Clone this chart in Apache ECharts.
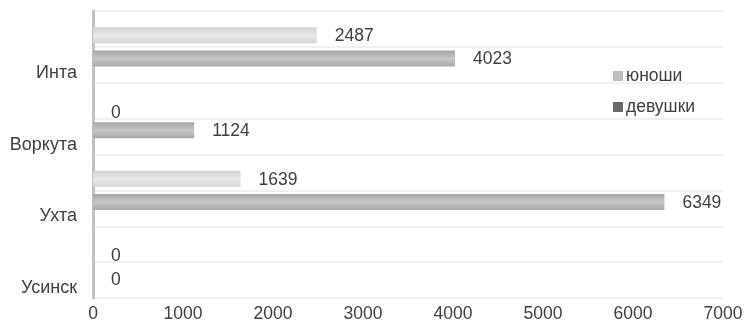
<!DOCTYPE html>
<html>
<head>
<meta charset="utf-8">
<script src="https://cdn.jsdelivr.net/npm/echarts@6/dist/echarts.min.js"></script>
<style>
  html, body { margin: 0; padding: 0; background: #fff; }
  #chart { width: 747px; height: 329px; }
</style>
</head>
<body>
<div id="chart"></div>
<script>
// Towns, listed top to bottom
const towns = ['Инта', 'Воркута', 'Ухта', 'Усинск'];
// Counts per town
const boys = [2487, 0, 1639, 0];      // юноши
const girls = [4023, 1124, 6349, 0];  // девушки
const seriesNames = ['юноши', 'девушки'];
const xTicks = { min: 0, max: 7000, interval: 1000 };

const textColor = '#404040';
const font = 'Liberation Sans, Arial, sans-serif';

function barGradient(edge, mid, edge2) {
  return new echarts.graphic.LinearGradient(0, 0, 0, 1, [
    { offset: 0, color: edge },
    { offset: 0.5, color: mid },
    { offset: 1, color: edge2 }
  ]);
}

const labelStyle = {
  show: true,
  position: 'right',
  distance: 18,
  color: textColor,
  fontSize: 17.5,
  fontFamily: font,
  offset: [0, 1]
};

// empty bars carry their label a little lower
function withLabels(values) {
  return values.map(v => v === 0 ? { value: v, label: { offset: [0, 6] } } : v);
}

const chart = echarts.init(document.getElementById('chart'));
chart.setOption({
  animation: false,
  backgroundColor: '#ffffff',
  textStyle: { fontFamily: font },
  grid: { left: 93, right: 24, top: 11, bottom: 31, containLabel: false },
  legend: {
    orient: 'vertical',
    left: 608,
    top: 62,
    itemWidth: 10,
    itemHeight: 10,
    itemGap: 13,
    icon: 'rect',
    textStyle: { color: textColor, fontSize: 17.5, fontFamily: font, padding: [0, 0, 0, -2] },
    data: [
      { name: seriesNames[0], itemStyle: { color: '#bdbdbd' } },
      { name: seriesNames[1], itemStyle: { color: '#6a6a6a' } }
    ]
  },
  xAxis: {
    type: 'value',
    min: xTicks.min,
    max: xTicks.max,
    interval: xTicks.interval,
    axisLine: { show: false },
    axisTick: { show: false },
    splitLine: { show: false },
    axisLabel: {
      color: textColor, fontSize: 17.5, fontFamily: font, margin: 7,
      formatter: v => String(v)
    }
  },
  yAxis: [
    {
      type: 'category',
      data: towns,
      inverse: true,
      axisLine: { show: true, lineStyle: { color: '#c2c2c2', width: 3 } },
      axisTick: { show: false },
      splitLine: { show: false },
      axisLabel: {
        margin: 16,
        formatter: v => '{t|' + v + '}',
        rich: {
          t: { color: textColor, fontSize: 18, fontFamily: font, padding: [52, 0, 0, 0] }
        }
      }
    },
    {
      // helper scale for the horizontal rules every half band
      type: 'value',
      position: 'right',
      min: 0,
      max: 8,
      interval: 1,
      axisLine: { show: false },
      axisTick: { show: false },
      axisLabel: { show: false },
      splitLine: { show: true, lineStyle: { color: '#ececec', width: 1.5 } }
    }
  ],
  series: [
    {
      name: seriesNames[0],
      type: 'bar',
      yAxisIndex: 0,
      data: withLabels(boys),
      barWidth: 16,
      barGap: '45%',
      itemStyle: { color: barGradient('#d2d2d2', '#e8e8e8', '#d5d5d5') },
      label: labelStyle
    },
    {
      name: seriesNames[1],
      type: 'bar',
      yAxisIndex: 0,
      data: withLabels(girls),
      barWidth: 16,
      barGap: '45%',
      itemStyle: { color: barGradient('#a6a6a6', '#c6c6c6', '#a9a9a9') },
      label: labelStyle
    }
  ]
});
</script>
</body>
</html>
